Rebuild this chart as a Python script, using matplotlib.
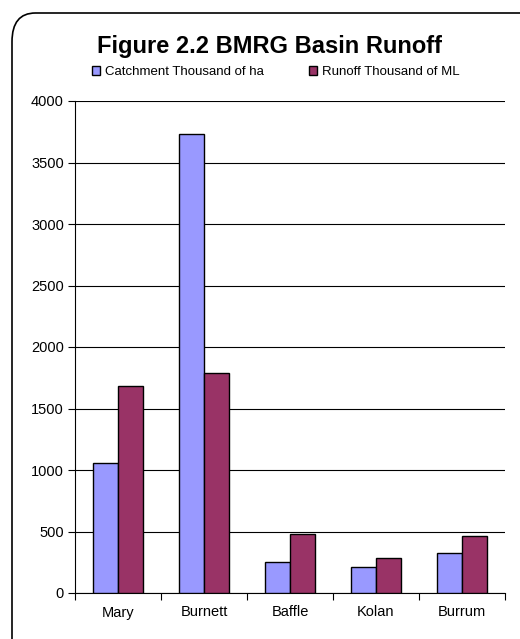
import matplotlib
matplotlib.use('Agg')
import matplotlib.pyplot as plt
from matplotlib.patches import FancyBboxPatch
import numpy as np

plt.rcParams['font.family'] = ['Liberation Sans', 'DejaVu Sans']

basins = ['Mary', 'Burnett', 'Baffle', 'Kolan', 'Burrum']
catchment = [1060, 3735, 255, 215, 328]   # thousand of ha
runoff = [1685, 1790, 482, 285, 463]      # thousand of ML
yticks = [0, 500, 1000, 1500, 2000, 2500, 3000, 3500, 4000]

fig = plt.figure(figsize=(5.2, 6.39), dpi=100)

# rounded frame round the whole chart, running off the right and bottom edges
frame = FancyBboxPatch((12 / 520, -0.05), 1.2, 0.05 + 1 - 13 / 639,
                       boxstyle='round,pad=0,rounding_size=0.045',
                       transform=fig.transFigure, fill=False,
                       edgecolor='black', linewidth=1.2)
fig.patches.append(frame)

ax = fig.add_axes([75 / 520, 1 - 593 / 639, 430 / 520, 492 / 639])

x = np.arange(len(basins))
w = 1 / 3.5
ax.bar(x - w / 2, catchment, w, color='#9999FF', edgecolor='black', linewidth=1,
       label='Catchment Thousand of ha', zorder=3)
ax.bar(x + w / 2, runoff, w, color='#993366', edgecolor='black', linewidth=1,
       label='Runoff Thousand of ML', zorder=3)

ax.set_xlim(-0.5, len(basins) - 0.5)
ax.set_ylim(0, 4000)
ax.set_yticks(yticks)
ax.set_xticks(x)
ax.set_xticklabels(basins, fontsize=10.5)
ax.set_xticks(np.arange(len(basins) + 1) - 0.5, minor=True)
ax.tick_params(axis='x', which='major', length=0, pad=9)
ax.tick_params(axis='x', which='minor', length=5, width=0.8, direction='out')
ax.tick_params(axis='y', length=5, width=0.8, direction='out', labelsize=10.5, pad=3)
ax.yaxis.grid(True, color='black', linewidth=0.8, zorder=0)

for s in ['top', 'right']:
    ax.spines[s].set_visible(False)
for s in ['left', 'bottom']:
    ax.spines[s].set_linewidth(0.8)

fig.text(0.518, 1 - 46 / 639, 'Figure 2.2 BMRG Basin Runoff', ha='center', va='center',
         fontsize=17, fontweight='bold')
fig.legend(loc='center', bbox_to_anchor=(0.53, 1 - 72 / 639), ncol=2, frameon=False,
           fontsize=9.5, handlelength=0.6, handleheight=0.6, handletextpad=0.4,
           columnspacing=3.4, borderaxespad=0)

fig.savefig('out.png', dpi=100)
